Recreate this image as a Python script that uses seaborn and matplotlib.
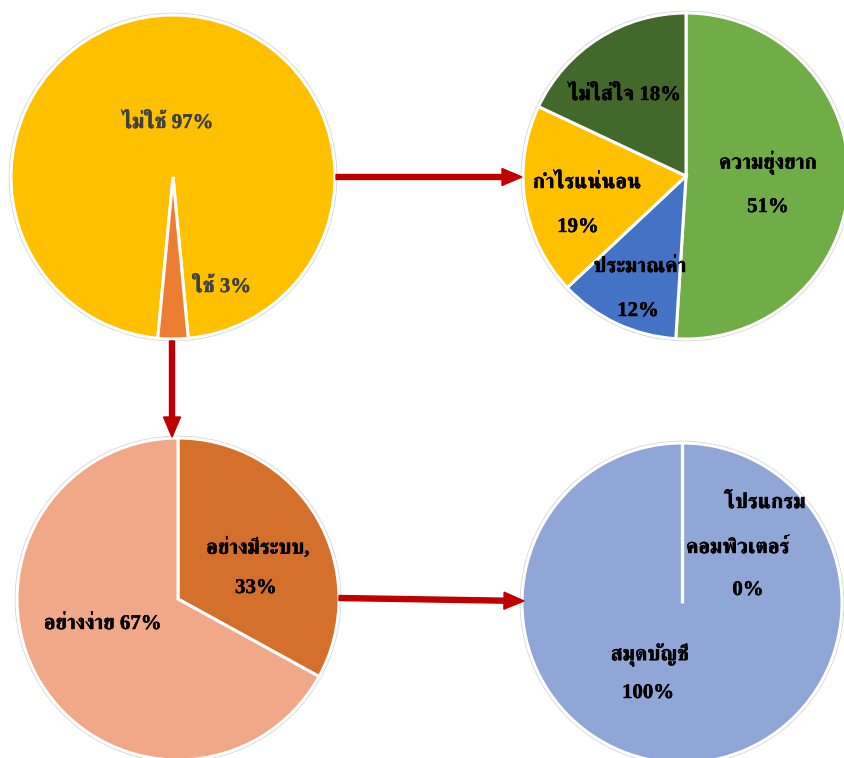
import matplotlib
matplotlib.use("Agg")
import matplotlib.pyplot as plt
from matplotlib import font_manager
from matplotlib.ft2font import FT2Font
from matplotlib.patches import Circle
import matplotlib.patheffects as pe
import numpy as np
import seaborn as sns

# ---------------- data ----------------
use_labels = ["ไม่ใช้", "ใช้"]
use_values = [97, 3]

reason_labels = ["ความยุ่งยาก", "ประมาณค่า", "กำไรแน่นอน", "ไม่ใส่ใจ"]
reason_values = [51, 12, 19, 18]

method_labels = ["อย่างมีระบบ", "อย่างง่าย"]
method_values = [33, 67]

tool_labels = ["โปรแกรมคอมพิวเตอร์", "สมุดบัญชี"]
tool_values = [0, 100]

# ---------------- fonts ----------------
sns.set_theme(style="white")


def find_thai_font():
    best = None
    for path in font_manager.findSystemFonts():
        try:
            cmap = FT2Font(path).get_charmap()
        except Exception:
            continue
        if 0x0E01 in cmap and 0x0E48 in cmap:
            name = font_manager.FontProperties(fname=path).get_name()
            low = path.lower()
            score = 0
            if "bold" in low:
                score += 2
            if "serif" in low and "sans" not in low:
                score += 1
            if best is None or score > best[0]:
                best = (score, name)
    return best[1] if best else None


thai = find_thai_font()
families = ["Liberation Serif"] + ([thai] if thai else []) + ["DejaVu Sans"]
plt.rcParams["font.family"] = families

W, H = 844, 758
fig = plt.figure(figsize=(W / 100, H / 100), dpi=100)
ax = fig.add_axes([0, 0, 1, 1])


def Y(py):
    return H - py


def draw_pie(values, colors, cx, cy, r, startangle):
    ax.add_patch(Circle((cx, Y(cy)), r + 1.6, facecolor="none",
                        edgecolor="#d4d4d4", lw=1.0, zorder=1))
    wedges, _ = ax.pie(values, colors=colors, center=(cx, Y(cy)), radius=r,
                       startangle=startangle, counterclock=False,
                       wedgeprops=dict(edgecolor="white", linewidth=2.2),
                       frame=True)
    # draw the separator of any zero-size slice
    for w in wedges:
        if abs(w.theta2 - w.theta1) < 1e-9:
            t = np.deg2rad(w.theta1)
            ax.plot([cx, cx + r * np.cos(t)], [Y(cy), Y(cy) + r * np.sin(t)],
                    color="white", lw=2.4, zorder=3, solid_capstyle="butt")
    return wedges


# pie 1 : use / not use  (small slice centred straight down)
draw_pie(use_values, ["#FFC000", "#ED7D31"], 173, 177, 162,
         startangle=-90 - 360 * use_values[1] / 200)
# pie 2 : reasons
draw_pie(reason_values, ["#70AD47", "#4472C4", "#FFC000", "#43682B"],
         686, 176, 163, startangle=90)
# pie 3 : method
draw_pie(method_values, ["#D46F2C", "#F0A888"], 178, 599, 161, startangle=90)
# pie 4 : tools
draw_pie(tool_values, ["#8FA6D6", "#8FA6D6"], 682, 603, 160, startangle=90)

ax.set_xlim(0, W)
ax.set_ylim(0, H)
ax.set_aspect("equal")
ax.axis("off")

fs = 15


def label(x, y, s, color="black"):
    ax.text(x, Y(y), s, color=color, fontsize=fs, fontweight="bold",
            ha="center", va="center", zorder=5,
            path_effects=[pe.withStroke(linewidth=0.3, foreground=color)])


# pie 1 labels
label(168, 123, f"{use_labels[0]} {use_values[0]}%", "#404040")
label(222, 287, f"{use_labels[1]} {use_values[1]}%", "#404040")

# pie 2 labels
label(768, 163, reason_labels[0])
label(768, 207, f"{reason_values[0]}%")
label(640, 267, reason_labels[1])
label(638, 311, f"{reason_values[1]}%")
label(587, 183, reason_labels[2])
label(578, 227, f"{reason_values[2]}%")
label(625, 95, f"{reason_labels[3]} {reason_values[3]}%")

# pie 3 labels
label(258, 548, f"{method_labels[0]},")
label(256, 588, f"{method_values[0]}%")
label(103, 624, f"{method_labels[1]} {method_values[1]}%")

# pie 4 labels
label(765, 503, "โปรแกรม")
label(738, 548, "คอมพิวเตอร์")
label(748, 590, f"{tool_values[0]}%")
label(650, 655, tool_labels[1])
label(648, 693, f"{tool_values[1]}%")

# arrows
red = "#C00000"
akw = dict(width=5, head_width=17, head_length=20, length_includes_head=True,
           color=red, zorder=6)
ax.arrow(336, Y(177), 522 - 336, 0, **akw)
ax.arrow(172, Y(341), 0, -(437 - 341), **akw)
ax.arrow(339, Y(598), 524 - 339, -(601 - 598), **akw)

fig.savefig("out.png", dpi=100)
